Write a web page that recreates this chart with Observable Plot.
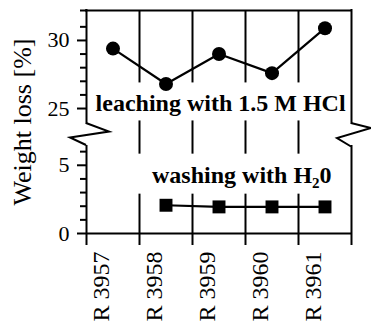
<!DOCTYPE html>
<html>
<head>
<meta charset="utf-8">
<script src="https://cdn.jsdelivr.net/npm/d3@7"></script>
<script src="https://cdn.jsdelivr.net/npm/@observablehq/plot@0.6"></script>
<style>
  html, body { margin: 0; padding: 0; background: white; }
</style>
</head>
<body>
<div id="chart"></div>
<script>
// ---- data ----
const categories = ["R 3957", "R 3958", "R 3959", "R 3960", "R 3961"];
const leaching = [29.4, 26.8, 29.0, 27.6, 30.9];
const washing = [null, 2.07, 1.95, 1.95, 1.95];
const majorTicks = [0, 5, 25, 30];
const minorTicks = [1, 2, 3, 4, 6, 26, 27, 28, 29, 31, 32.2];
const yTitle = "Weight loss [%]";
const annotationTexts = ["leaching with 1.5 M HCl", "washing with H₂0"];

// broken axis segments
const lowTop = 6.45, highBottom = 23.9, yTop = 32.2;
const n = categories.length;

const annotations = [
  {text: annotationTexts[0], x: 2.53, y: 25.35},
  {text: annotationTexts[1], x: 2.93, y: 4.29}
];

const serif = '"Liberation Serif"';
const idx = (d, i) => i + 0.5;

const chart = Plot.plot({
  width: 371,
  height: 330,
  marginLeft: 86,
  marginRight: 20,
  marginTop: 10,
  marginBottom: 97,
  style: {background: "white", color: "black"},
  x: {type: "linear", domain: [0, n], range: [86, 351]},
  y: {type: "linear", domain: [0, lowTop, highBottom, yTop], range: [233, 145, 123, 10]},
  marks: [
    Plot.ruleX(d3.range(1, n), {y1: 0, y2: yTop, strokeWidth: 2}),
    Plot.text(annotations, {x: "x", y: "y", text: "text", fontSize: 24, fontWeight: "bold"}),
    Plot.ruleY([yTop], {x1: 0, x2: n, strokeWidth: 2, strokeLinecap: "square"}),
    Plot.ruleY([0], {x1: 0, x2: n, strokeWidth: 2}),
    Plot.ruleX([0, n], {y1: highBottom, y2: yTop, strokeWidth: 2, strokeLinecap: "square"}),
    Plot.ruleX([0, n], {y1: 0, y2: lowTop, strokeWidth: 2}),
    Plot.axisX(d3.range(0, n + 1), {tickSize: 12, tickFormat: () => "", strokeWidth: 2, label: null}),
    Plot.text(categories, {x: idx, frameAnchor: "bottom", rotate: -90, textAnchor: "end", dy: 18, dx: -4, fontSize: 24}),
    Plot.axisY(majorTicks, {tickSize: 9, tickPadding: 8, fontSize: 22, strokeWidth: 2, label: null}),
    Plot.axisY(minorTicks, {tickSize: 6, tickFormat: () => "", strokeWidth: 2, label: null}),
    Plot.text([yTitle], {frameAnchor: "left", textAnchor: "middle", rotate: -90, dx: -64, fontSize: 26}),
    Plot.line(leaching, {x: idx, y: d => d, strokeWidth: 2.2}),
    Plot.dot(leaching, {x: idx, y: d => d, r: 7, fill: "black", stroke: null}),
    Plot.line(washing, {x: idx, y: d => d, strokeWidth: 2.2}),
    Plot.dot(washing, {x: idx, y: d => d, r: 7.3, symbol: "square", fill: "black", stroke: null})
  ]
});

const host = document.getElementById("chart");
host.append(chart);

// subscript and white boxes behind annotation texts
d3.select(chart).selectAll("text").filter(function() {
  return annotationTexts.includes(this.textContent);
}).each(function() {
  const t = d3.select(this);
  const s = this.textContent;
  if (s.includes("₂")) {
    const [a, b] = s.split("₂");
    t.text(null);
    t.append("tspan").text(a);
    t.append("tspan").attr("font-size", "15").attr("dy", "5").text("2");
    t.append("tspan").attr("dy", "-5").text(b);
  }
  const bb = this.getBBox();
  const r = document.createElementNS("http://www.w3.org/2000/svg", "rect");
  r.setAttribute("x", bb.x - 3);
  r.setAttribute("y", bb.y - 3);
  r.setAttribute("width", bb.width + 6);
  r.setAttribute("height", bb.height + 5);
  r.setAttribute("fill", "white");
  const tr = this.getAttribute("transform");
  if (tr) r.setAttribute("transform", tr);
  this.parentNode.insertBefore(r, this);
});

// zigzag axis breaks
const sx = chart.scale("x"), sy = chart.scale("y");
const x0 = sx.apply(0), x5 = sx.apply(n);
const yb = sy.apply(highBottom), ya = sy.apply(lowTop);
const zig = d3.path();
zig.moveTo(x0, yb); zig.lineTo(x0 + 23, yb + 8.5); zig.lineTo(x0 - 16, yb + 14.5); zig.lineTo(x0, ya);
zig.moveTo(x5, yb); zig.lineTo(x5 + 20, yb + 5); zig.lineTo(x5 - 14, yb + 15); zig.lineTo(x5, ya + 1.5);
d3.select(chart).append("path")
  .attr("d", zig.toString())
  .attr("fill", "none")
  .attr("stroke", "black")
  .attr("stroke-width", 2)
  .attr("stroke-linejoin", "miter");

// clean the drawing: drop Plot's stylesheet, classes and aria attributes, then set the serif face
chart.querySelectorAll("style").forEach(e => e.remove());
[chart, ...chart.querySelectorAll("*")].forEach(el => {
  for (const a of Array.from(el.attributes)) {
    if (a.name.startsWith("aria") || a.name === "class" || a.name === "role" || a.name === "font-family" || a.name === "font-variant") {
      el.removeAttribute(a.name);
    }
  }
});
chart.removeAttribute("style");
chart.setAttribute("font-family", serif);
chart.querySelectorAll("text").forEach(t => {
  t.setAttribute("font-family", serif);
  t.style.setProperty("font-family", serif, "important");
  t.style.setProperty("white-space", "pre");
});
chart.style.background = "white";
chart.style.display = "block";
</script>
</body>
</html>
